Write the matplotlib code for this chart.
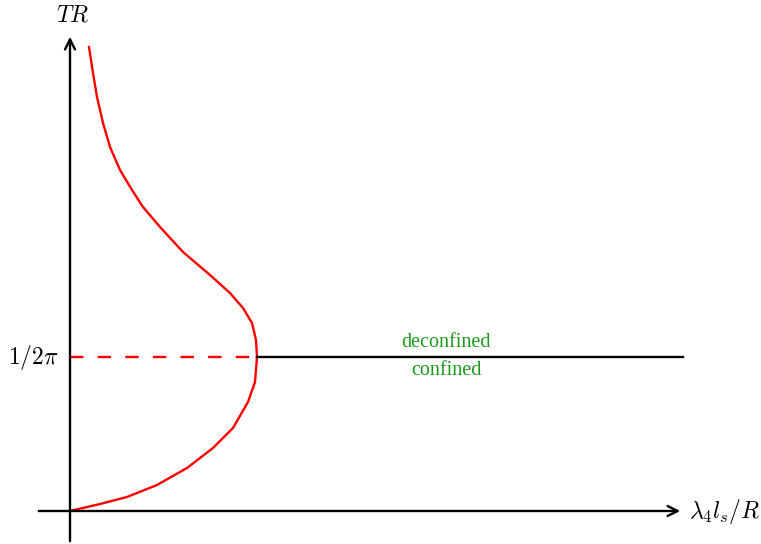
import numpy as np
import matplotlib.pyplot as plt

plt.rcParams['mathtext.fontset'] = 'cm'

# curve, x to the right, y up (arbitrary units, origin at axes crossing)
curve_x = [0, 30, 57, 87, 117, 143, 163, 178, 185, 187, 186, 182, 173, 160, 140, 113,
           90, 73, 62, 50, 40, 33, 27, 23, 19]
curve_y = [0, 7, 14, 26, 43, 63, 83, 109, 129, 154, 171, 188, 203, 218, 236, 259,
           284, 304, 321, 341, 364, 388, 414, 438, 464]
t_c = 154          # the 1/2pi level
x_tip = 187        # where the curve meets the 1/2pi level
x_end = 613        # end of the transition line
labels = ["deconfined", "confined"]
green = "#1a9a1a"

fig = plt.figure(figsize=(7.61, 5.44), dpi=100)
ax = fig.add_axes([0, 0, 1, 1])
ax.set_xlim(-70, 691)
ax.set_ylim(-33, 511)
ax.axis("off")

# axes with arrows
ax.annotate("", xy=(613, 0), xytext=(-34, 0),
            arrowprops=dict(arrowstyle="->", lw=1.7, color="black", mutation_scale=18))
ax.annotate("", xy=(0, 477), xytext=(0, -33),
            arrowprops=dict(arrowstyle="->", lw=1.7, color="black", mutation_scale=18))

ax.plot(curve_x, curve_y, color="red", lw=1.7)
ax.plot([0, x_tip], [t_c, t_c], color="red", lw=1.7, ls=(0, (5.7, 6)))
ax.plot([x_tip, x_end], [t_c, t_c], color="black", lw=1.7)

ax.text(376, t_c + 5, labels[0], color=green, family="Liberation Serif",
        fontsize=14.5, ha="center", va="bottom")
ax.text(376, t_c - 4, labels[1], color=green, family="Liberation Serif",
        fontsize=14.5, ha="center", va="top")

ax.text(3, 496, r"$TR$", fontsize=17, ha="center", va="center")
ax.text(619, 0, r"$\lambda_4 l_s/R$", fontsize=17, ha="left", va="center")
ax.text(-11, t_c, r"$1/2\pi$", fontsize=17, ha="right", va="center")

fig.savefig("out.png", dpi=100)
